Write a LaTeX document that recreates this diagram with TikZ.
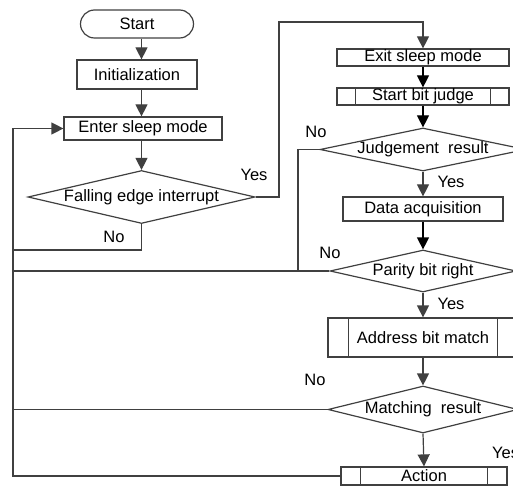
\documentclass[tikz,border=0pt]{standalone}
\usepackage{fontspec}
\setmainfont{Liberation Sans}
\usetikzlibrary{shapes.geometric,arrows.meta}
\definecolor{ln}{HTML}{404040}
\begin{document}
\begin{tikzpicture}[x=1pt,y=-1pt,
  every node/.style={font=\fontsize{16.5}{19}\selectfont, text=black},
  box/.style={draw=ln, line width=1.2pt, rectangle, inner sep=0pt},
  dia/.style={draw=ln, line width=1.2pt, diamond, inner sep=0pt},
  lab/.style={inner sep=0pt},
  ln/.style={draw=ln, line width=1.2pt},
  arr/.style={ln, -{Triangle[length=12pt,width=12pt]}},
  barr/.style={draw=black, line width=1.2pt, -{Triangle[length=12pt,width=12pt]}}
]
\useasboundingbox (0,0) rectangle (513,486);
% left column
\node[box, rounded corners=14pt, minimum width=113pt, minimum height=28pt] (start) at (137,24) {Start};
\node[box, minimum width=120pt, minimum height=29pt] (init) at (137,74.5) {Initialization};
\node[box, minimum width=158pt, minimum height=23pt] (enter) at (143,128.5) {Enter sleep mode};
\node[dia, minimum width=227pt, minimum height=53pt, label={center:Falling edge interrupt}] (fe) at (141.5,197) {};
% right column
\node[box, minimum width=172pt, minimum height=17pt] (exit) at (423,57.5) {Exit sleep mode};
\node[box, minimum width=172pt, minimum height=17pt] (sbj) at (423,96.5) {Start bit judge};
\node[dia, minimum width=206pt, minimum height=43pt, label={center:Judgement\ \ result}] (jr) at (423,149.5) {};
\node[box, minimum width=160pt, minimum height=24pt] (da) at (423,209) {Data acquisition};
\node[dia, minimum width=186pt, minimum height=42pt, label={center:Parity bit right}] (pb) at (423,271) {};
\node[box, minimum width=190pt, minimum height=39pt] (abm) at (423,337.5) {Address bit match};
\node[dia, minimum width=190pt, minimum height=47pt, label={center:Matching\ \ result}] (mr) at (423,409.5) {};
\node[box, minimum width=166pt, minimum height=18pt] (act) at (424,476) {Action};
% side bars
\foreach \n/\s in {sbj/19, abm/21, act/20}{
  \draw[ln] ([xshift=\s pt]\n.north west) -- ([xshift=\s pt]\n.south west);
  \draw[ln] ([xshift=-\s pt]\n.north east) -- ([xshift=-\s pt]\n.south east);
}
% coordinates
\coordinate (c1) at (279,22);
\coordinate (c2) at (13,250);
\coordinate (jn) at (298,271);
% connectors left
\draw[arr] (start.south -| fe.north) -- (init.north -| fe.north);
\draw[arr] (init.south -| fe.north) -- (enter.north -| fe.north);
\draw[arr] (enter.south -| fe.north) -- (fe.north);
\draw[arr] (fe.east) -| (c1) -| (exit.north);
\draw[arr] (fe.south) |- (c2) |- (enter.west);
% connectors right
\draw[barr] (exit.south) -- (sbj.north);
\draw[barr] (sbj.south) -- (jr.north);
\draw[arr] (jr.south) -- (da.north);
\draw[barr] (da.south) -- (pb.north);
\draw[arr] (pb.south) -- (abm.north);
\draw[arr] (abm.south) -- (mr.north);
\draw[arr] (mr.south) -- (act.north);
\draw[ln] (jr.west) -| (jn);
\draw[ln] (pb.west) -- (pb.west -| c2);
\draw[ln] (mr.west) -- (mr.west -| c2);
\draw[ln] (act.west) -| (c2);
% labels
\node[lab] (y1) at (254,175) {Yes};
\node[lab] (n1) at (114,237) {No};
\node[lab] (n2) at (316,132) {No};
\node[lab] (y2) at (451,182) {Yes};
\node[lab] (n3) at (330,253) {No};
\node[lab] (y3) at (451,304) {Yes};
\node[lab] (n4) at (315,380) {No};
\node[lab, anchor=west] (y4) at (492,453) {Yes};
\end{tikzpicture}
\end{document}
